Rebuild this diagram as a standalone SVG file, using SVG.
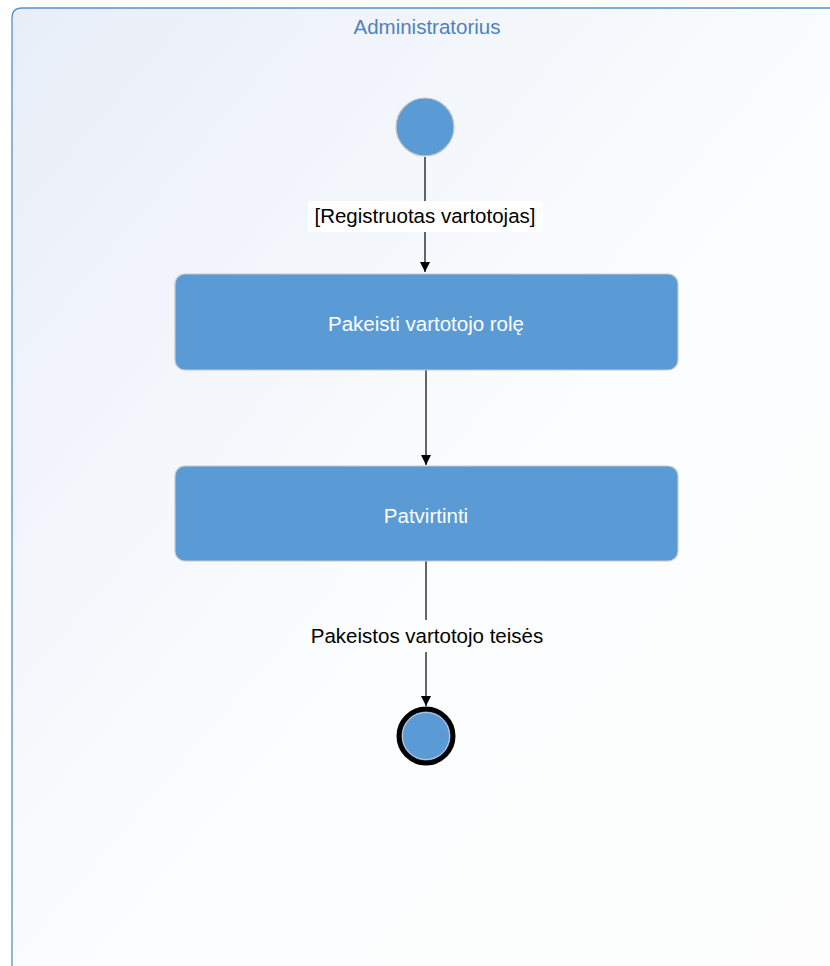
<svg xmlns="http://www.w3.org/2000/svg" width="830" height="966" viewBox="0 0 830 966">
  <style>
    .lane-title { font-family: "Liberation Sans", Arial, sans-serif; font-size: 20.5px; fill: #4f81bd; text-anchor: middle; }
    .action rect { fill: #5b9bd5; stroke: #c8c8c8; stroke-width: 1.2; }
    .action text { font-family: "Liberation Sans", Arial, sans-serif; font-size: 20.5px; fill: #ffffff; text-anchor: middle; }
    .edge { stroke: #000000; stroke-width: 1.2; fill: none; marker-end: url(#arrow); }
    .edge-label { font-family: "Liberation Sans", Arial, sans-serif; font-size: 20.5px; fill: #000000; text-anchor: middle; }
  </style>
  <defs>
    <linearGradient id="laneFill" x1="0" y1="0" x2="1" y2="1">
      <stop offset="0" stop-color="#e8eef8"/>
      <stop offset="0.55" stop-color="#fcfdfe"/>
      <stop offset="1" stop-color="#fdfdfd"/>
    </linearGradient>
    <marker id="arrow" viewBox="0 0 10 10" refX="10" refY="5" markerWidth="10" markerHeight="10" markerUnits="userSpaceOnUse" orient="auto">
      <path d="M0,0 L10,5 L0,10 z" fill="#000000"/>
    </marker>
  </defs>

  <rect width="830" height="966" fill="#ffffff"/>

  <!-- swimlane -->
  <g id="lane">
    <path d="M12,976 L12,18 Q12,8 22,8 L840,8 L840,976 Z" fill="url(#laneFill)" stroke="#5b8fc9" stroke-width="1.3"/>
    <text class="lane-title" x="427" y="34">Administratorius</text>
  </g>

  <!-- connectors -->
  <g id="connectors">
    <line class="edge" x1="425" y1="157" x2="425" y2="272"/>
    <rect x="308" y="201" width="235" height="31" fill="#ffffff"/>
    <text class="edge-label" x="425" y="223">[Registruotas vartotojas]</text>

    <line class="edge" x1="426" y1="370" x2="426" y2="465"/>

    <line class="edge" x1="426" y1="561" x2="426" y2="706"/>
    <line x1="426" y1="620" x2="426" y2="652" stroke="#ffffff" stroke-width="4"/>
    <text class="edge-label" x="427" y="643">Pakeistos vartotojo teisės</text>
  </g>

  <!-- initial node -->
  <g id="start">
    <circle cx="425" cy="127" r="29" fill="#5b9bd5" stroke="#c8c8c8" stroke-width="1.2"/>
  </g>

  <!-- actions -->
  <g id="change-role" class="action">
    <rect x="175" y="274" width="503" height="96" rx="10" ry="10"/>
    <text x="426" y="331">Pakeisti vartotojo rolę</text>
  </g>

  <g id="confirm" class="action">
    <rect x="175" y="466" width="503" height="95" rx="10" ry="10"/>
    <text x="426" y="523">Patvirtinti</text>
  </g>

  <!-- final node -->
  <g id="end">
    <circle cx="426" cy="736" r="27" fill="#5b9bd5" stroke="#000000" stroke-width="5"/>
    <circle cx="426" cy="736" r="23.5" fill="none" stroke="#c8c8c8" stroke-width="1"/>
  </g>
</svg>
